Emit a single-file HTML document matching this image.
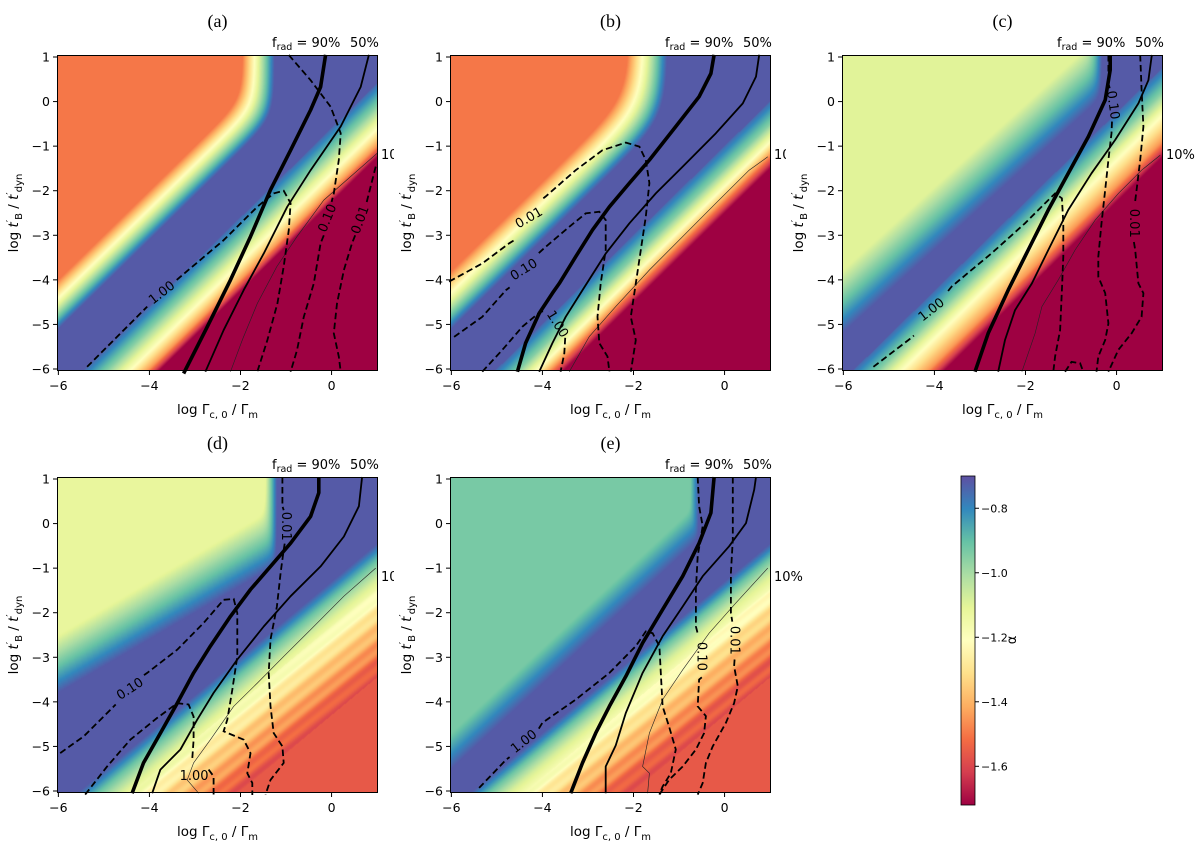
<!DOCTYPE html>
<html><head><meta charset="utf-8">
<style>
html,body{margin:0;padding:0;background:#fff;}
#fig{position:relative;width:1200px;height:843px;overflow:hidden;background:#fff;}
canvas{position:absolute;}
svg{position:absolute;left:0;top:0;}
text{font-family:"DejaVu Sans","Liberation Sans",sans-serif;}
</style></head>
<body>
<div id="fig">
<canvas id="hm-a" width="321" height="316" style="left:57px;top:55px"></canvas>
<canvas id="hm-b" width="321" height="316" style="left:450px;top:55px"></canvas>
<canvas id="hm-c" width="321" height="316" style="left:842px;top:55px"></canvas>
<canvas id="hm-d" width="321" height="316" style="left:57px;top:477px"></canvas>
<canvas id="hm-e" width="321" height="316" style="left:450px;top:477px"></canvas>
<svg id="ov" width="1200" height="843" xmlns="http://www.w3.org/2000/svg">
<defs>
<linearGradient id="cbgrad" x1="0" y1="1" x2="0" y2="0">
<stop offset="0" stop-color="#9e0142"/><stop offset="0.1" stop-color="#d53e4f"/><stop offset="0.2" stop-color="#f46d43"/><stop offset="0.3" stop-color="#fdae61"/><stop offset="0.4" stop-color="#fee08b"/><stop offset="0.5" stop-color="#ffffbf"/><stop offset="0.6" stop-color="#e6f598"/><stop offset="0.7" stop-color="#abdda4"/><stop offset="0.8" stop-color="#66c2a5"/><stop offset="0.9" stop-color="#3288bd"/><stop offset="1" stop-color="#5e4fa2"/>
</linearGradient>
<clipPath id="clipA"><rect x="0" y="0" width="394" height="843"/></clipPath>
<clipPath id="clipB"><rect x="0" y="0" width="786" height="843"/></clipPath>
</defs>
</svg>
</div>
<script>
// ---------- colormap ----------
const spectral = [[158,1,66],[213,62,79],[244,109,67],[253,174,97],[254,224,139],[255,255,191],[230,245,152],[171,221,164],[102,194,165],[50,136,189],[94,79,162]];
const alphaMin = -1.72, alphaMax = -0.70, alphaBlue = -0.72;
function cmap(a){
  let t = (a - alphaMin)/(alphaMax - alphaMin); t = Math.max(0, Math.min(1, t));
  const f = t*10, i = Math.min(9, Math.floor(f)), r = f - i;
  const c0 = spectral[i], c1 = spectral[i+1];
  return [c0[0]+(c1[0]-c0[0])*r, c0[1]+(c1[1]-c0[1])*r, c0[2]+(c1[2]-c0[2])*r];
}

// ---------- heatmap model parameters (per panel a..e) ----------
const upperAlpha = [-1.50, -1.50, -1.10, -1.12, -0.93];
const vertX      = [-1.95, -2.1, -0.62, -1.45, -0.75];
const vertW      = [0.7, 0.85, 0.3, 0.25, 0.18];
const upSlope    = [1.0, 1.0, 0.93, 0.6, 0.95];
const upHi       = [2.0, 2.2, 1.8, 1.1, 1.0];
const upLo       = [0.9, 0.9, 0.4, -0.2, 0.2];
const softK      = [4, 3, 5, 5, 6];
const lowSlope   = [1.0, 1.0, 1.0, 0.85, 0.85];
const lowStopsW  = [
  [-0.6,-1.1,-1.6,-2.0,-2.25],
  [-1.0,-1.5,-1.9,-2.2,-2.5],
  [-0.25,-0.8,-1.3,-1.9,-2.25],
  [-1.3,-1.7,-2.1,-2.5,-3.0,-3.6,-4.1],
  [-1.3,-1.65,-2.0,-2.4,-2.9,-3.5,-4.0]
];
const lowStopsA  = [
  [-0.75,-0.95,-1.2,-1.45,-1.72],
  [-0.75,-0.95,-1.2,-1.45,-1.72],
  [-0.75,-0.95,-1.2,-1.45,-1.72],
  [-0.72,-0.92,-1.08,-1.2,-1.33,-1.45,-1.56],
  [-0.72,-0.92,-1.08,-1.2,-1.33,-1.45,-1.56]
];
const rippleAmp = [0, 0, 0, 0.035, 0.035];

// ---------- layout ----------
const panelIds = ['a','b','c','d','e'];
const panelL = [57, 450, 842, 57, 450];
const panelT = [55, 55, 55, 477, 477];
const PW = 321, PH = 316;
const xMin = -6.03, xMax = 1.02, yMax = 1.045, yMin = -6.045;
function sx(p, x){ return panelL[p] + (x - xMin)/(xMax - xMin)*PW; }
function sy(p, y){ return panelT[p] + (yMax - y)/(yMax - yMin)*PH; }

function alphaAt(p, x, y){
  const v = y - upSlope[p]*x, w = y - lowSlope[p]*x;
  const ws = lowStopsW[p], as = lowStopsA[p];
  if (w > ws[0]) {
    const s1 = (x - vertX[p])/vertW[p];
    const s2 = (upHi[p] - v)/(upHi[p] - upLo[p]);
    const k = softK[p];
    let s = Math.log(Math.exp(k*s1) + Math.exp(k*s2))/k;
    s = Math.max(0, Math.min(1, s));
    return upperAlpha[p] + (alphaBlue - upperAlpha[p])*s;
  }
  let a = as[as.length-1];
  for (let i=0;i<ws.length-1;i++){
    if (w <= ws[i] && w > ws[i+1]) { const r=(ws[i]-w)/(ws[i]-ws[i+1]); a = as[i]+(as[i+1]-as[i])*r; break; }
  }
  if (rippleAmp[p] > 0 && w < -2.3 && w > -4.3) a += rippleAmp[p]*Math.sin(w*2*Math.PI/0.38 + 0.6*x);
  return a;
}
for (let p=0;p<5;p++){
  const cv = document.getElementById('hm-'+panelIds[p]);
  const ctx = cv.getContext('2d'); const img = ctx.createImageData(PW, PH);
  for (let j=0;j<PH;j++){ const y = yMax - (j+0.5)/PH*(yMax-yMin);
    for (let i=0;i<PW;i++){ const x = xMin + (i+0.5)/PW*(xMax-xMin);
      const c = cmap(alphaAt(p,x,y)); const k=(j*PW+i)*4;
      img.data[k]=c[0]; img.data[k+1]=c[1]; img.data[k+2]=c[2]; img.data[k+3]=255; } }
  ctx.putImageData(img,0,0);
}

// ---------- contour data ----------
const thickLines = [
 [[-3.25,-6.1],[-2.73,-5.05],[-2.22,-4.0],[-1.78,-3.03],[-1.34,-1.98],[-0.9,-1.09],[-0.46,-0.19],[-0.24,0.33],[-0.13,1.05]],
 [[-4.55,-6.06],[-4.37,-5.42],[-4.07,-4.75],[-3.78,-4.3],[-3.63,-4.08],[-3.27,-3.48],[-2.9,-2.88],[-2.53,-2.36],[-2.09,-1.83],[-1.65,-1.31],[-1.07,-0.56],[-0.56,0.11],[-0.3,0.63],[-0.23,1.05]],
 [[-3.11,-6.06],[-2.82,-5.2],[-2.38,-4.23],[-1.94,-3.33],[-1.5,-2.43],[-1.06,-1.61],[-0.62,-0.79],[-0.25,0.035],[-0.14,0.71],[-0.14,1.045]],
 [[-4.38,-6.05],[-4.13,-5.37],[-3.76,-4.7],[-3.39,-4.03],[-3.03,-3.35],[-2.66,-2.75],[-2.22,-2.08],[-1.78,-1.48],[-1.34,-0.96],[-0.9,-0.44],[-0.46,0.16],[-0.28,0.69],[-0.28,1.045]],
 [[-3.38,-6.05],[-3.12,-5.37],[-2.83,-4.7],[-2.53,-4.1],[-2.17,-3.43],[-1.8,-2.68],[-1.36,-1.93],[-0.92,-1.18],[-0.56,-0.44],[-0.3,0.24],[-0.23,1.045]]
];
const midLines = [
 [[-2.77,-6.06],[-2.37,-5.13],[-1.93,-4.23],[-1.49,-3.41],[-0.975,-2.36],[-0.46,-1.54],[0.2,-0.56],[0.64,0.33],[0.82,1.05]],
 [[-4.07,-6.06],[-3.78,-5.42],[-3.49,-4.83],[-3.12,-4.23],[-2.61,-3.41],[-2.09,-2.73],[-1.51,-2.06],[-0.92,-1.46],[-0.19,-0.71],[0.4,-0.04],[0.69,0.56],[0.76,1.05]],
 [[-2.6,-6.06],[-2.45,-5.35],[-2.23,-4.68],[-1.86,-4.08],[-1.5,-3.33],[-1.06,-2.43],[-0.55,-1.61],[-0.03,-0.86],[0.48,-0.04],[0.7,0.48],[0.77,1.01],[0.78,1.045]],
 [[-3.94,-6.05],[-3.76,-5.52],[-3.32,-5.07],[-2.95,-4.4],[-2.59,-3.8],[-2.07,-3.05],[-1.49,-2.31],[-0.9,-1.63],[-0.24,-0.96],[0.27,-0.29],[0.6,0.39],[0.67,1.045]],
 [[-2.61,-6.05],[-2.61,-5.45],[-2.39,-4.98],[-2.17,-4.25],[-1.8,-3.35],[-1.36,-2.53],[-0.92,-1.86],[-0.48,-1.18],[0.1,-0.51],[0.47,0.01],[0.65,0.76],[0.69,1.045]]
];
const thinLines = [
 [[-2.22,-6.06],[-1.96,-5.35],[-1.63,-4.53],[-1.2,-3.7],[-0.76,-3.03],[-0.17,-2.21],[0.42,-1.68],[1.0,-1.16]],
 [[-3.41,-6.06],[-2.97,-5.27],[-2.39,-4.6],[-1.65,-3.78],[-0.92,-3.03],[-0.19,-2.28],[0.54,-1.54],[0.95,-1.24]],
 [[-2.08,-6.06],[-1.79,-5.2],[-1.64,-4.6],[-1.28,-4.0],[-0.91,-3.33],[-0.47,-2.66],[0.04,-2.06],[0.55,-1.54],[0.96,-1.2]],
 [[-2.92,-6.05],[-3.17,-5.75],[-3.03,-5.37],[-2.66,-4.85],[-2.15,-4.1],[-1.63,-3.58],[-1.05,-2.98],[-0.46,-2.38],[0.27,-1.63],[0.97,-1.0]],
 [[-1.69,-6.05],[-1.65,-5.6],[-1.8,-5.45],[-1.65,-4.7],[-1.36,-3.95],[-0.92,-3.28],[-0.34,-2.46],[0.25,-1.78],[0.95,-1.0]]
];
const dashedSegs = [
 [
  [[-5.37,-5.95],[-4.05,-4.6]],
  [[-3.4,-4.0],[-2.37,-3.11],[-1.63,-2.36],[-1.27,-2.06],[-1.05,-2.0],[-0.9,-2.28],[-0.94,-2.88],[-1.05,-3.7],[-1.19,-4.53],[-1.41,-5.35],[-1.63,-6.06]],
  [[-0.94,1.045],[-0.46,0.48],[-0.02,-0.115],[0.2,-0.71],[0.16,-1.31],[0.05,-2.06],[0.0,-2.25]],
  [[-0.17,-3.0],[-0.24,-3.18],[-0.39,-4.08],[-0.61,-4.83],[-0.76,-5.58],[-0.9,-6.06]],
  [[0.97,-1.46],[0.82,-2.06],[0.76,-2.3]],
  [[0.52,-3.0],[0.45,-3.18],[0.27,-3.78],[0.12,-4.53],[0.05,-5.2],[0.16,-5.72],[0.2,-6.06]]
 ],
 [
  [[-6.05,-4.04],[-5.32,-3.63],[-4.73,-3.18],[-4.6,-3.1]],
  [[-3.98,-2.17],[-3.93,-2.13],[-3.27,-1.54],[-2.68,-1.09],[-2.17,-0.92],[-1.87,-1.01],[-1.73,-1.31],[-1.65,-1.83],[-1.73,-2.58],[-1.84,-3.33],[-1.95,-4.08],[-2.06,-4.83],[-1.95,-5.35],[-2.06,-6.06]],
  [[-5.94,-5.28],[-5.32,-4.83],[-4.8,-4.23],[-4.72,-4.17]],
  [[-4.08,-3.4],[-3.93,-3.26],[-3.41,-2.81],[-3.05,-2.51],[-2.75,-2.47],[-2.61,-2.66],[-2.61,-3.33],[-2.72,-4.08],[-2.79,-4.83],[-2.75,-5.42],[-2.57,-5.72],[-2.53,-6.06]],
  [[-5.32,-6.06],[-4.88,-5.57],[-4.44,-5.05],[-4.04,-4.71],[-3.92,-4.7]],
  [[-3.5,-5.3],[-3.52,-5.65],[-3.6,-6.06]]
 ],
 [
  [[-5.34,-5.95],[-4.57,-5.35],[-4.45,-5.25]],
  [[-3.7,-4.25],[-3.62,-4.15],[-2.74,-3.4],[-2.01,-2.73],[-1.57,-2.28],[-1.35,-2.06],[-1.2,-2.17],[-1.17,-2.73],[-1.17,-3.48],[-1.2,-4.23],[-1.24,-5.13],[-1.35,-5.72],[-1.39,-6.06]],
  [[-1.13,-6.06],[-0.99,-5.84],[-0.8,-5.87],[-0.73,-6.06]],
  [[-0.18,1.045],[-0.18,0.41],[-0.15,0.3]],
  [[-0.1,-0.45],[-0.11,-0.71],[-0.18,-1.31],[-0.25,-1.98],[-0.33,-2.73],[-0.4,-3.48],[-0.4,-3.93],[-0.25,-4.3],[-0.18,-4.98],[-0.25,-5.35],[-0.4,-5.72],[-0.44,-6.06]],
  [[0.52,1.045],[0.55,0.26],[0.59,-0.56],[0.52,-1.31],[0.44,-1.98],[0.4,-2.3]],
  [[0.38,-3.15],[0.41,-3.33],[0.48,-4.08],[0.59,-4.3],[0.55,-4.83],[0.33,-5.2],[0.04,-5.57],[-0.18,-6.06]]
 ],
 [
  [[-5.96,-5.15],[-5.44,-4.77],[-4.78,-4.1],[-4.74,-4.06]],
  [[-4.12,-3.4],[-4.05,-3.35],[-3.39,-2.83],[-2.81,-2.23],[-2.37,-1.71],[-2.15,-1.69],[-2.07,-2.01],[-2.07,-2.98],[-2.18,-3.73],[-2.29,-4.4],[-2.37,-4.66],[-1.93,-4.85],[-1.78,-5.15],[-1.85,-5.6],[-1.74,-5.82],[-1.74,-6.09]],
  [[-1.08,1.045],[-1.08,0.39],[-1.05,0.3]],
  [[-1.03,-0.45],[-1.05,-0.59],[-1.12,-1.11],[-1.2,-1.86],[-1.34,-2.6],[-1.38,-3.35],[-1.34,-4.1],[-1.27,-4.7],[-1.08,-5.0],[-1.05,-5.37],[-1.34,-5.75],[-1.45,-6.08]],
  [[-5.41,-6.08],[-4.93,-5.45],[-4.42,-4.85],[-3.83,-4.36],[-3.39,-4.03],[-3.14,-4.06],[-3.03,-4.33],[-3.03,-4.85],[-3.06,-5.3]],
  [[-2.7,-5.52],[-2.59,-5.67],[-2.59,-6.08]]
 ],
 [
  [[-5.39,-5.93],[-4.8,-5.3],[-4.72,-5.24]],
  [[-4.08,-4.6],[-4.0,-4.47],[-3.27,-3.95],[-2.53,-3.35],[-1.95,-2.75],[-1.73,-2.42],[-1.58,-2.46],[-1.43,-2.75],[-1.4,-3.35],[-1.36,-4.1],[-1.22,-4.55],[-1.07,-5.07],[-1.18,-5.6],[-1.36,-5.9],[-1.43,-6.08]],
  [[-0.59,1.045],[-0.56,0.39],[-0.48,-0.06],[-0.59,-0.73],[-0.63,-1.48],[-0.63,-2.31],[-0.58,-2.5]],
  [[-0.5,-3.45],[-0.56,-3.5],[-0.59,-4.1],[-0.41,-4.32],[-0.45,-4.7],[-0.63,-5.07],[-0.92,-5.45],[-1.22,-5.75],[-1.43,-6.08]],
  [[0.18,1.045],[0.18,-0.36],[0.14,-1.11],[0.14,-2.01],[0.17,-2.2]],
  [[0.22,-3.05],[0.21,-3.2],[0.29,-3.65],[0.21,-4.03],[0.03,-4.47],[-0.26,-5.0],[-0.41,-5.37],[-0.48,-5.82],[-0.59,-6.08]]
 ]
];
const contourLabels = [
 [["1.00",-3.72,-4.3,-38],["0.10",-0.08,-2.62,-68],["0.01",0.64,-2.66,-70]],
 [["0.01",-4.29,-2.62,-30],["0.10",-4.40,-3.78,-32],["1.00",-3.68,-5.0,58]],
 [["1.00",-4.06,-4.68,-38],["0.10",-0.09,-0.08,82],["0.01",0.37,-2.73,90]],
 [["0.10",-4.42,-3.72,-33],["0.01",-1.01,-0.06,90],["1.00",-3.02,-5.68,0]],
 [["1.00",-4.40,-4.9,-38],["0.10",-0.52,-2.98,90],["0.01",0.21,-2.62,90]]
];
const xTicks = [-6, -4, -2, 0];
const yTicks = [1, 0, -1, -2, -3, -4, -5, -6];
const cbTicks = [-0.8, -1.0, -1.2, -1.4, -1.6];
const panelTitles = ['(a)','(b)','(c)','(d)','(e)'];

// ---------- drawing ----------
const NS = 'http://www.w3.org/2000/svg';
const svg = document.getElementById('ov');
function el(tag, attrs, parent){ const e = document.createElementNS(NS, tag); for (const k in attrs) e.setAttribute(k, attrs[k]); (parent||svg).appendChild(e); return e; }
function fmt(v){ return (v<0?'\u2212':'')+Math.abs(v); }
function pathD(p, pts){ return pts.map((q,i)=>(i?'L':'M')+sx(p,q[0]).toFixed(1)+','+sy(p,q[1]).toFixed(1)).join(''); }

for (let p=0;p<5;p++){
  const g = el('g', {});
  
  
  const L = panelL[p], T = panelT[p];
  const cg = el('g', {}, g);
  const th = el('path', {d:pathD(p, thickLines[p]), fill:'none', stroke:'#000', 'stroke-width':3.6, 'stroke-linejoin':'round'}, cg);
  
  
  const md = el('path', {d:pathD(p, midLines[p]), fill:'none', stroke:'#000', 'stroke-width':1.8, 'stroke-linejoin':'round'}, cg);
  
  
  const tn = el('path', {d:pathD(p, thinLines[p]), fill:'none', stroke:'#222', 'stroke-width':0.6}, cg);
  
  
  for (const seg of dashedSegs[p]){
    const ds = el('path', {d:pathD(p, seg), fill:'none', stroke:'#000', 'stroke-width':1.8, 'stroke-dasharray':'6.5,3.5'}, cg);
    
    
  }
  for (const lb of contourLabels[p]){
    const X = sx(p, lb[1]), Y = sy(p, lb[2]);
    const t = el('text', {x:X, y:Y, 'font-size':13, 'text-anchor':'middle', 'dominant-baseline':'central', transform:'rotate('+lb[3]+' '+X+' '+Y+')'}, g);
    t.textContent = lb[0];
    
    
  }
  const fr = el('rect', {x:L+0.5, y:T+0.5, width:PW-1, height:PH-1, fill:'none', stroke:'#000', 'stroke-width':1}, g);
  
  
  for (const v of xTicks){
    const X = sx(p, v);
    const tk = el('line', {x1:X, y1:T+PH, x2:X, y2:T+PH+4, stroke:'#000', 'stroke-width':1}, g);
    
    
    const tl = el('text', {x:X, y:T+PH+19, 'font-size':12.5, 'text-anchor':'middle'}, g);
    tl.textContent = fmt(v);
    
    
  }
  for (const v of yTicks){
    const Y = sy(p, v);
    const tk = el('line', {x1:L-4, y1:Y, x2:L, y2:Y, stroke:'#000', 'stroke-width':1}, g);
    
    
    const tl = el('text', {x:L-7, y:Y+4.5, 'font-size':12.5, 'text-anchor':'end'}, g);
    tl.textContent = fmt(v);
    
    
  }
  const cx = L + PW/2;
  const xl = el('text', {x:cx, y:T+PH+43, 'font-size':13.5, 'text-anchor':'middle'}, g);
  xl.innerHTML = 'log \u0393<tspan font-size="10" dy="4">c, 0</tspan><tspan dy="-4"> / \u0393</tspan><tspan font-size="10" dy="4">m</tspan>';
  
  
  const ylx = L - 39, yly = T + PH/2;
  const yl = el('text', {x:ylx, y:yly, 'font-size':13.5, 'text-anchor':'middle', transform:'rotate(-90 '+ylx+' '+yly+')'}, g);
  yl.innerHTML = 'log <tspan font-style="italic">t</tspan><tspan font-size="10" dy="-5">\u2032</tspan><tspan font-size="10" dy="9">B</tspan><tspan dy="-4"> / </tspan><tspan font-style="italic">t</tspan><tspan font-size="10" dy="-5">\u2032</tspan><tspan font-size="10" dy="9">dyn</tspan>';
  
  
  const tt = el('text', {x:cx, y:T-28, 'font-size':18, 'text-anchor':'middle', style:'font-family:"Liberation Serif",serif'}, g);
  tt.textContent = panelTitles[p];
  
  
  const fl = el('text', {x:L+215, y:T-8, 'font-size':13}, g);
  fl.innerHTML = 'f<tspan font-size="9.5" dy="3">rad</tspan><tspan dy="-3"> = 90%</tspan>';
  
  
  const f5 = el('text', {x:L+293, y:T-8, 'font-size':13}, g);
  f5.textContent = '50%';
  
  
  const clip = (p===0||p===3) ? 'url(#clipA)' : (p===1 ? 'url(#clipB)' : 'none');
  const f1 = el('text', {x:L+PW+3, y:sy(p,-1.2)+4, 'font-size':13, 'clip-path':clip}, g);
  f1.textContent = '10%';
  
  
}

// colorbar
const cbX = 961, cbY = 476, cbW = 14, cbH = 329;
const cbg = el('g', {});


const cbr = el('rect', {x:cbX, y:cbY, width:cbW, height:cbH, fill:'url(#cbgrad)', stroke:'#000', 'stroke-width':0.8}, cbg);


for (const v of cbTicks){
  const Y = cbY + (alphaMax - v)/(alphaMax - alphaMin)*cbH;
  const tk = el('line', {x1:cbX+cbW, y1:Y, x2:cbX+cbW+4, y2:Y, stroke:'#000', 'stroke-width':1}, cbg);
  
  
  const tl = el('text', {x:cbX+cbW+6, y:Y+4, 'font-size':11}, cbg);
  tl.textContent = '\u2212' + Math.abs(v).toFixed(1);
  
  
}
const al = el('text', {x:1016, y:640, 'font-size':13, 'text-anchor':'middle', transform:'rotate(-90 1016 640)'}, cbg);
al.textContent = '\u03b1';


</script>
</body></html>
